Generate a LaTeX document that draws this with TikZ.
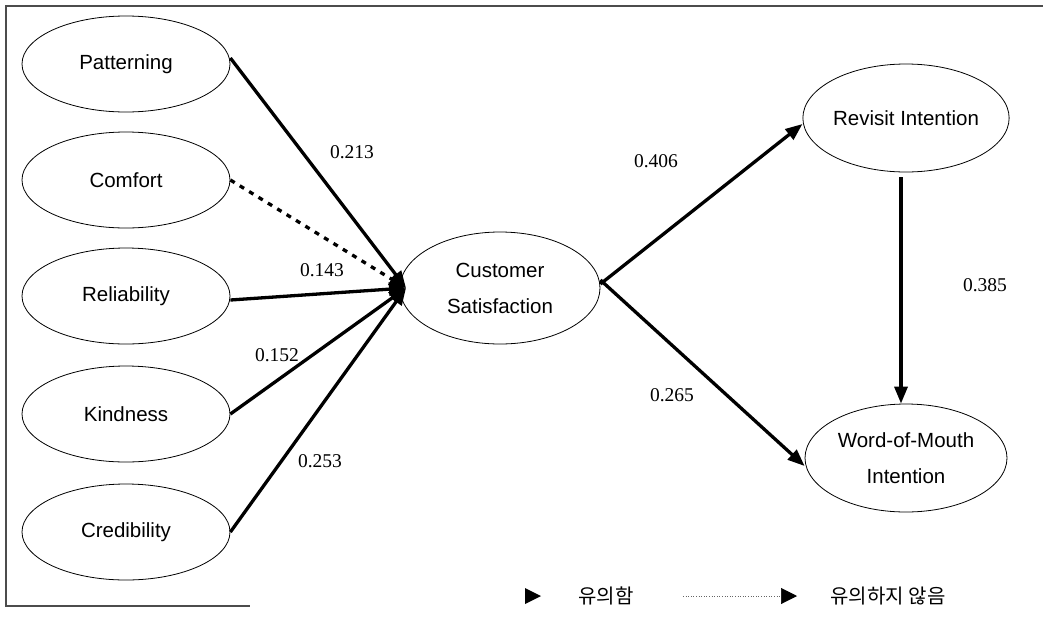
\documentclass[tikz,border=0pt]{standalone}
\usepackage{fontspec}
\setmainfont{Liberation Serif}
\newfontfamily\labfont{Liberation Sans}
\newfontfamily\krfont{Noto Sans CJK KR}
\usetikzlibrary{shapes.geometric,arrows.meta}
\begin{document}
\begin{tikzpicture}[x=1pt,y=-1pt,
  ell/.style={draw,ellipse,line width=0.8pt,minimum width=208pt,minimum height=96pt,inner sep=0pt,align=center,font=\labfont\fontsize{20.5}{36}\selectfont},
  path/.style={line width=3.3pt,-{Triangle[length=17pt,width=13pt]}},
  nsig/.style={line width=3.3pt,dash pattern=on 5pt off 6pt,-{Triangle[length=17pt,width=13pt]}},
  coef/.style={font=\fontsize{19.5}{22}\selectfont},
  frame/.style={line width=1.2pt,draw=black!70}]
\useasboundingbox (0,0) rectangle (1043,619);
\draw[frame] (1043,6) -- (6,6) -- (6,606) -- (250,606);
\node[ell] (pat) at (126,64) {Patterning};
\node[ell] (com) at (126,180) {Comfort};
\node[ell] (rel) at (126,296) {Reliability};
\node[ell] (kin) at (126,414) {Kindness};
\node[ell] (cre) at (126,532) {Credibility};
\node[ell,minimum width=200pt,minimum height=112pt] (cs) at (500,288) {Customer\\Satisfaction};
\node[ell,minimum width=202pt,minimum height=108pt] (rev) at (906,118) {Revisit Intention};
\node[ell,minimum width=202pt,minimum height=108pt] (wom) at (906,458) {Word-of-Mouth\\Intention};
\coordinate (hub) at (406,288);
\draw[path] ([yshift=6pt]pat.east) -- (hub);
\draw[nsig] (com.east) -- (hub);
\draw[path] ([yshift=-4pt]rel.east) -- (hub);
\draw[path] (kin.east) -- (hub);
\draw[path] (cre.east) -- (hub);
\draw[path] ([yshift=4pt]cs.east) -- ([yshift=-6pt]rev.west);
\draw[path] ([yshift=8pt]cs.east) -- ([yshift=-8pt]wom.west);
\draw[path,shorten <=5pt] ([xshift=-5pt]rev.south) -- ([xshift=-5pt]wom.north);
\node[coef] (c1) at (352,152) {0.213};
\node[coef] (c2) at (322,270) {0.143};
\node[coef] (c3) at (277,355) {0.152};
\node[coef] (c4) at (320,461) {0.253};
\node[coef] (c5) at (656,161) {0.406};
\node[coef] (c6) at (672,395) {0.265};
\node[coef] (c7) at (985,285) {0.385};
% legend
\fill (525,588) -- (541,596) -- (525,604) -- cycle;
\node[font=\krfont\fontsize{20}{22}\selectfont,anchor=west] (l1) at (575,596) {유의함};
\coordinate (d0) at (683,596);
\coordinate (d1) at (797,596);
\draw[line width=0.6pt,draw=black!60,dotted,-{Triangle[length=16pt,width=16pt,fill=black,color=black]}] (d0) -- (d1);
\node[font=\krfont\fontsize{20}{22}\selectfont,anchor=west] (l2) at (827,596) {유의하지 않음};
\end{tikzpicture}
\end{document}
